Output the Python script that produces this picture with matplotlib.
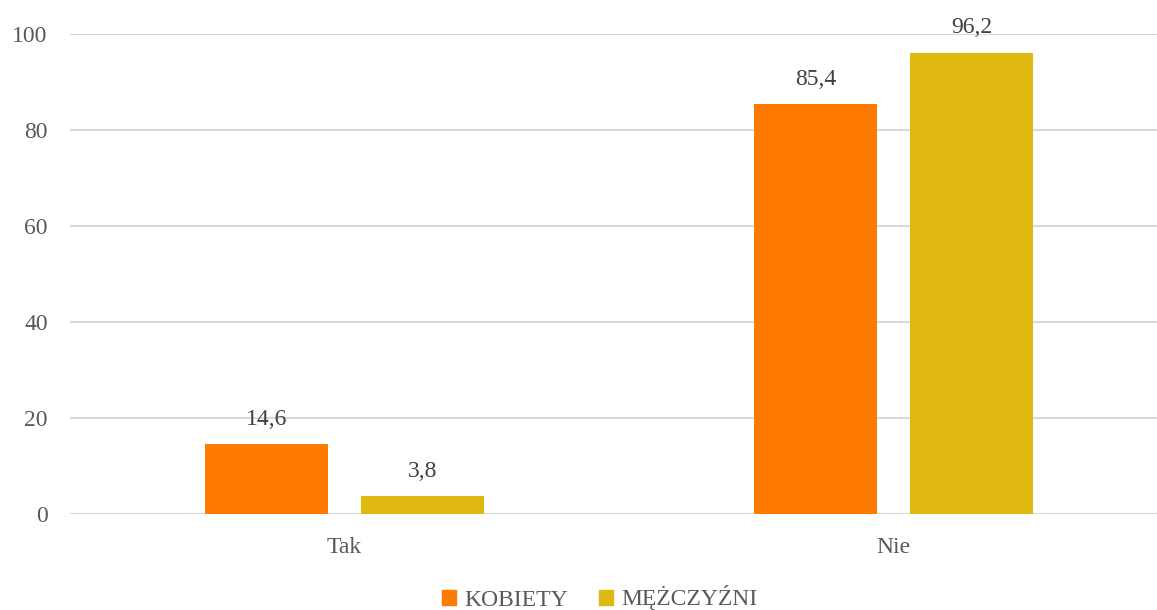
import numpy as np
import matplotlib
matplotlib.use("Agg")
import matplotlib.pyplot as plt
from matplotlib.patches import Patch

# dane
categories = ["Tak", "Nie"]
series_names = ["KOBIETY", "MĘŻCZYŹNI"]
kobiety = [14.6, 85.4]
mezczyzni = [3.8, 96.2]
yticks = [0, 20, 40, 60, 80, 100]

colors = ["#FF7B00", "#E0B812"]
plt.rcParams["font.family"] = ["Liberation Serif", "DejaVu Serif"]

fig = plt.figure(figsize=(11.57, 6.10), dpi=100)
ax = fig.add_axes([70 / 1157, 1 - 514.3 / 610, 1 - 70 / 1157, (514.3 - 34.3) / 610])

x = np.arange(len(categories))
width = 0.224
offset = 0.142
for vals, off, col in [(kobiety, -offset, colors[0]), (mezczyzni, offset, colors[1])]:
    bars = ax.bar(x + off, vals, width, color=col, zorder=3)
    for b, v in zip(bars, vals):
        ax.text(b.get_x() + b.get_width() / 2, v + 3.0, f"{v:.1f}".replace(".", ","),
                ha="center", va="bottom", fontsize=17, color="#404040", clip_on=False)

ax.set_xlim(-0.5, 1.48)
ax.set_ylim(0, 100)
ax.set_yticks(yticks)
ax.set_xticks(x)
ax.set_xticklabels(categories)
ax.grid(axis="y", color="#D9D9D9", linewidth=1.5, zorder=0)
ax.set_axisbelow(True)
for s in ax.spines.values():
    s.set_visible(False)
ax.tick_params(axis="both", length=0, labelsize=17, labelcolor="#595959")
ax.tick_params(axis="y", pad=16)
ax.tick_params(axis="x", pad=16)

handles = [Patch(color=c) for c in colors]
fig.legend(handles, series_names, loc="center", bbox_to_anchor=(600 / 1157, 1 - 598 / 610),
           ncol=2, frameon=False, fontsize=17, labelcolor="#595959",
           handlelength=0.6, handleheight=0.6, handletextpad=0.35, columnspacing=1.3)

fig.savefig("out.png", dpi=100)
